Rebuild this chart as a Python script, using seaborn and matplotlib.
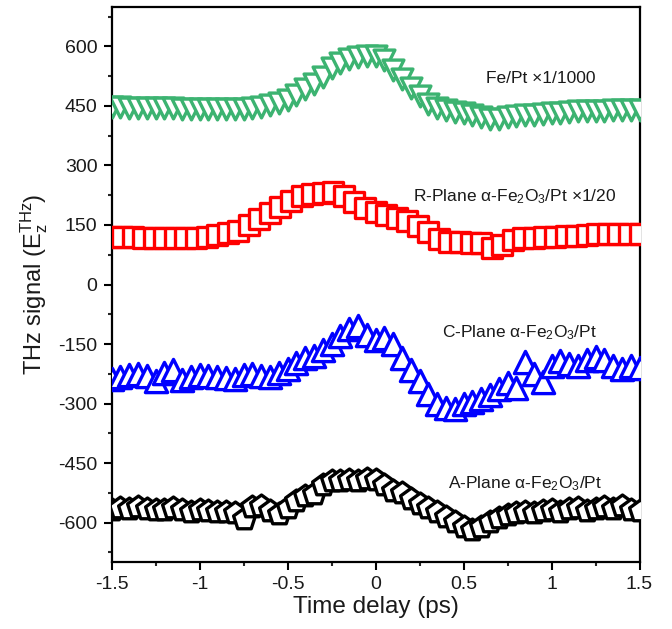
import numpy as np
import pandas as pd
import matplotlib
matplotlib.use("Agg")
import matplotlib.pyplot as plt
from matplotlib.ticker import MultipleLocator, FuncFormatter
import seaborn as sns

# ---------------- data ----------------
t_green = [round(-1.5 + 0.05 * i, 2) for i in range(61)]
fe_pt = [447, 447, 446, 446, 445, 445, 444, 444, 443, 443,
         442, 442, 441, 441, 441, 442, 444, 448, 453, 458,
         465, 478, 492, 506, 524, 545, 557, 567, 574, 577,
         577, 566, 540, 518, 496, 474, 455, 445, 439, 435,
         431, 427, 422, 418, 417, 421, 425, 427, 428, 430,
         431, 432, 434, 436, 437, 438, 438, 439, 439, 439, 440]

t_red = [round(-1.5 + 0.06 * i, 2) for i in range(51)]
r_plane = [120, 120, 119, 118, 117, 116, 116, 116, 117, 120,
           125, 130, 135, 150, 165, 180, 195, 210, 222, 228,
           230, 233, 222, 208, 193, 183, 175, 168, 160, 148,
           132, 115, 108, 106, 105, 105, 92, 100, 112, 116,
           118, 119, 120, 121, 122, 125, 127, 128, 128, 128, 128]

t_blue = [round(-1.5 + 0.05 * i, 2) for i in range(61)]
c_plane = [-238, -232, -228, -226, -230, -243, -222, -215, -240, -232,
           -228, -230, -233, -236, -238, -228, -226, -230, -232, -222,
           -212, -198, -186, -180, -165, -150, -130, -112, -104, -128,
           -140, -136, -150, -185, -215, -242, -275, -300, -311, -314,
           -302, -296, -288, -278, -264, -248, -262, -196, -225, -245,
           -205, -192, -200, -205, -190, -183, -190, -205, -212, -205, -210]

t_black = [round(-1.5 + 0.05 * i, 2) for i in range(61)]
a_plane = [-568, -562, -565, -560, -566, -568, -567, -563, -569, -572,
           -568, -571, -574, -572, -576, -592, -560, -558, -570, -578,
           -562, -545, -532, -528, -505, -494, -495, -493, -494, -490,
           -492, -506, -520, -526, -540, -553, -563, -574, -586, -598,
           -612, -619, -610, -598, -588, -580, -576, -572, -575, -570,
           -567, -572, -566, -562, -570, -565, -560, -566, -558, -568, -570]

labels = [r"Fe/Pt ×1/1000",
          r"R-Plane α-Fe$\mathregular{_2}$O$\mathregular{_3}$/Pt ×1/20",
          r"C-Plane α-Fe$\mathregular{_2}$O$\mathregular{_3}$/Pt",
          r"A-Plane α-Fe$\mathregular{_2}$O$\mathregular{_3}$/Pt"]
label_pos = [(0.625, 519), (0.213, 221), (0.38, -121), (0.41, -501)]

x_ticks = [-1.5, -1, -0.5, 0, 0.5, 1, 1.5]
y_ticks = [-600, -450, -300, -150, 0, 150, 300, 450, 600]

# ---------------- style ----------------
sns.set_style("ticks")
plt.rcParams["font.family"] = ["Liberation Sans", "DejaVu Sans"]
plt.rcParams["mathtext.fontset"] = "custom"
plt.rcParams["mathtext.rm"] = "Liberation Sans"
plt.rcParams["mathtext.it"] = "Liberation Sans:italic"
plt.rcParams["mathtext.bf"] = "Liberation Sans:bold"
plt.rcParams["axes.unicode_minus"] = False

fig = plt.figure(figsize=(6.72, 6.29), dpi=100)
ax = fig.add_axes([111.5 / 672, 1 - 562.3 / 629, (639.5 - 111.5) / 672, (562.3 - 6.7) / 629])

series = [
    (t_green, fe_pt, "v", "#3cb371", 15.0),
    (t_red, r_plane, "s", "#ff0000", 14.5),
    (t_blue, c_plane, "^", "#0000ff", 16.0),
    (t_black, a_plane, "p", "#000000", 16.5),
]
for xs, ys, mk, col, ms in series:
    df = pd.DataFrame({"t": xs, "v": ys})
    sns.scatterplot(data=df, x="t", y="v", marker=mk, s=ms ** 2,
                    facecolor="white", edgecolor=col, linewidth=2.4,
                    ax=ax, legend=False, zorder=3, clip_on=True)

for txt, (tx, ty) in zip(labels, label_pos):
    ax.text(tx, ty, txt, fontsize=12.5, ha="left", va="center", color="#1a1a1a")

ax.set_xlim(-1.5, 1.5)
ax.set_ylim(-700, 700)
ax.set_xticks(x_ticks)
ax.set_yticks(y_ticks)
ax.xaxis.set_minor_locator(MultipleLocator(0.25))
ax.yaxis.set_minor_locator(MultipleLocator(75))
ax.xaxis.set_major_formatter(FuncFormatter(lambda v, p: "%g" % v))
ax.yaxis.set_major_formatter(FuncFormatter(lambda v, p: "%g" % v))

for side in ["left", "right", "top", "bottom"]:
    ax.spines[side].set_visible(True)
    ax.spines[side].set_linewidth(1.6)
    ax.spines[side].set_color("black")

ax.tick_params(axis="both", which="major", direction="out", length=6, width=1.5,
               labelsize=14, pad=4, colors="black", labelcolor="#1a1a1a")
ax.tick_params(axis="both", which="minor", direction="out", length=3.2, width=1.5)
ax.tick_params(top=False, right=False, which="both")

ax.set_xlabel("Time delay (ps)", fontsize=17.5, labelpad=2, color="#1a1a1a")
ax.set_ylabel(r"THz signal (E$\mathregular{_z^{THz}}$)", fontsize=17, labelpad=6, color="#1a1a1a")

fig.savefig("out.png", dpi=100)
